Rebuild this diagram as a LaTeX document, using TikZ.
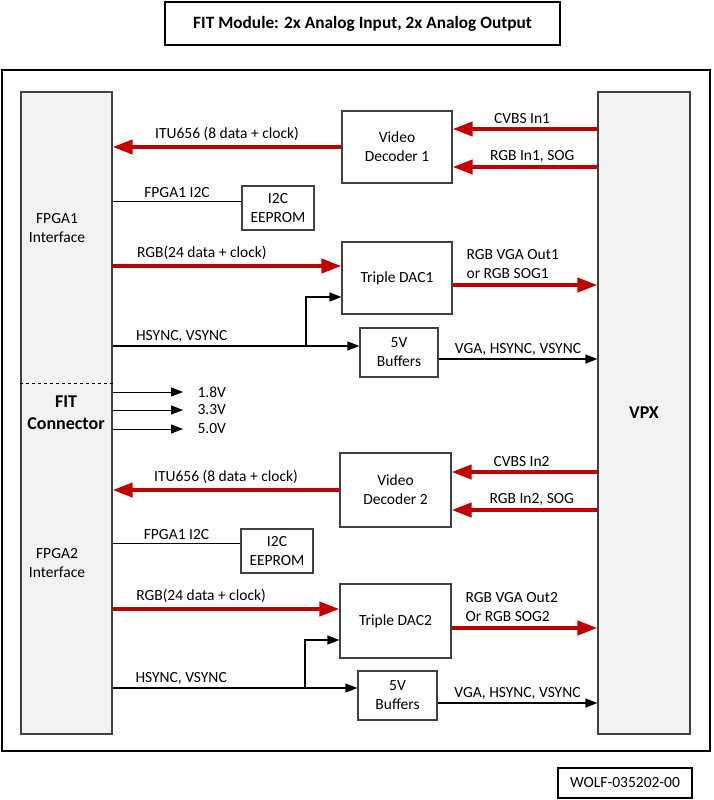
\documentclass[tikz,border=0pt]{standalone}
\usepackage{fontspec}
\setmainfont{Carlito}
\usetikzlibrary{arrows.meta}
\definecolor{busred}{RGB}{192,0,0}
\definecolor{panelgray}{RGB}{242,242,242}
\definecolor{edgegray}{RGB}{64,64,64}
\tikzset{
  box/.style={draw=edgegray, line width=1.2pt, align=center, inner sep=0pt},
  panel/.style={box, fill=panelgray},
  lbl/.style={font=\fontsize{15.5}{17}\selectfont, inner sep=2pt},
  bus/.style={draw=busred, line width=4pt, -{Triangle[length=20pt,width=14pt]}},
  sig/.style={line width=1.5pt, -{Triangle[length=12pt,width=9pt]}},
  wire/.style={line width=1pt}
}
\begin{document}
\begin{tikzpicture}[x=1pt,y=-1pt,every node/.style={font=\fontsize{15.5}{19}\selectfont}]
			\useasboundingbox (0,0) rectangle (713,800);
			% title and frame
			\node[draw, line width=1.5pt, minimum width=395pt, minimum height=43pt, font=\bfseries\fontsize{17.3}{19}\selectfont] (title) at (362.5,23.5) {FIT Module: 2x Analog Input, 2x Analog Output};
			\node[draw, line width=2pt, minimum width=708pt, minimum height=681pt] (frame) at (356,410.5) {};
			\node[draw, line width=1.2pt, minimum width=134pt, minimum height=30pt] (wolf) at (625,783) {WOLF-035202-00};
			% side panels
			\node[panel, minimum width=91pt, minimum height=642pt] (fpga) at (66.5,413) {};
			\node[panel, minimum width=92pt, minimum height=642pt] (vpx) at (644,413) {};
			\node[font=\bfseries\fontsize{18}{20}\selectfont] (vpxtxt) at (vpx) {VPX};
			\node[align=center] (fpga1txt) at (57,228) {FPGA1\\Interface};
			\node[align=center, font=\bfseries\fontsize{18}{22}\selectfont] (fittxt) at (66,413) {FIT\\Connector};
			\node[align=center] (fpga2txt) at (57,563) {FPGA2\\Interface};
			\draw[dashed, line width=0.9pt] (fpga.west |- 0,383) -- (fpga.east |- 0,383);
			% blocks, first channel
			\node[box, minimum width=110pt, minimum height=72pt] (dec1) at (397,147) {Video\\Decoder 1};
			\node[box, minimum width=72pt, minimum height=44pt] (eep1) at (278,208) {I2C\\EEPROM};
			\node[box, minimum width=110pt, minimum height=72pt] (dac1) at (397,278) {Triple DAC1};
			\node[box, minimum width=78pt, minimum height=49pt] (buf1) at (399,352.5) {5V\\Buffers};
			% blocks, second channel
			\node[box, minimum width=111pt, minimum height=74pt] (dec2) at (395.5,490) {Video\\Decoder 2};
			\node[box, minimum width=72pt, minimum height=44pt] (eep2) at (277,551) {I2C\\EEPROM};
			\node[box, minimum width=111pt, minimum height=74pt] (dac2) at (395.5,621) {Triple DAC2};
			\node[box, minimum width=79pt, minimum height=49pt] (buf2) at (397.5,695.5) {5V\\Buffers};
			% first channel connections
			\draw[bus] (dec1.west) -- node[lbl, above=2pt] {ITU656 (8 data + clock)} (fpga.east |- dec1.west);
			\draw[bus] (vpx.west |- 0,129) -- node[lbl, above=1pt, pos=.52] {CVBS In1} (dec1.east |- 0,129);
			\draw[bus] (vpx.west |- 0,167) -- node[lbl, above=1pt, pos=.45] {RGB In1, SOG} (dec1.east |- 0,167);
			\draw[wire] (fpga.east |- 0,201) -- node[lbl, above=1pt] {FPGA1 I2C} (eep1.west |- 0,201);
			\draw[bus] (fpga.east |- 0,266) -- node[lbl, above=2pt, pos=.39] {RGB(24 data + clock)} (dac1.west |- 0,266);
			\draw[bus] (dac1.east |- 0,285) -- node[lbl, pos=0, anchor=south west, align=left, xshift=10pt, yshift=2pt, font=\fontsize{15.5}{19}\selectfont] {RGB VGA Out1\\or RGB SOG1} (vpx.west |- 0,285);
			\draw[sig] (fpga.east |- 0,346) -- node[lbl, above=1pt, pos=.28] {HSYNC, VSYNC} (buf1.west |- 0,346);
			\draw[sig] (306,346) |- (dac1.west |- 0,297);
			\draw[sig] (buf1.east |- 0,359) -- node[lbl, above=1pt] {VGA, HSYNC, VSYNC} (vpx.west |- 0,359);
			% supply rails
			\coordinate (v18) at (183,392);
			\coordinate (v33) at (183,410);
			\coordinate (v50) at (183,429);
			\draw[sig, line width=1pt] (fpga.east |- v18) -- (v18) node[lbl, right=12pt] {1.8V};
			\draw[sig, line width=1pt] (fpga.east |- v33) -- (v33) node[lbl, right=12pt] {3.3V};
			\draw[sig, line width=1pt] (fpga.east |- v50) -- (v50) node[lbl, right=12pt] {5.0V};
			% second channel connections
			\draw[bus] (dec2.west) -- node[lbl, above=2pt] {ITU656 (8 data + clock)} (fpga.east |- dec2.west);
			\draw[bus] (vpx.west |- 0,472) -- node[lbl, above=1pt, pos=.52] {CVBS In2} (dec2.east |- 0,472);
			\draw[bus] (vpx.west |- 0,510) -- node[lbl, above=1pt, pos=.45] {RGB In2, SOG} (dec2.east |- 0,510);
			\draw[wire] (fpga.east |- 0,543) -- node[lbl, above=1pt] {FPGA1 I2C} (eep2.west |- 0,543);
			\draw[bus] (fpga.east |- 0,609) -- node[lbl, above=2pt, pos=.39] {RGB(24 data + clock)} (dac2.west |- 0,609);
			\draw[bus] (dac2.east |- 0,628) -- node[lbl, pos=0, anchor=south west, align=left, xshift=10pt, yshift=2pt, font=\fontsize{15.5}{19}\selectfont] {RGB VGA Out2\\Or RGB SOG2} (vpx.west |- 0,628);
			\draw[sig] (fpga.east |- 0,688) -- node[lbl, above=1pt, pos=.28] {HSYNC, VSYNC} (buf2.west |- 0,688);
			\draw[sig] (305,688) |- (dac2.west |- 0,640);
			\draw[sig] (buf2.east |- 0,703) -- node[lbl, above=1pt] {VGA, HSYNC, VSYNC} (vpx.west |- 0,703);
		\end{tikzpicture}
\end{document}
